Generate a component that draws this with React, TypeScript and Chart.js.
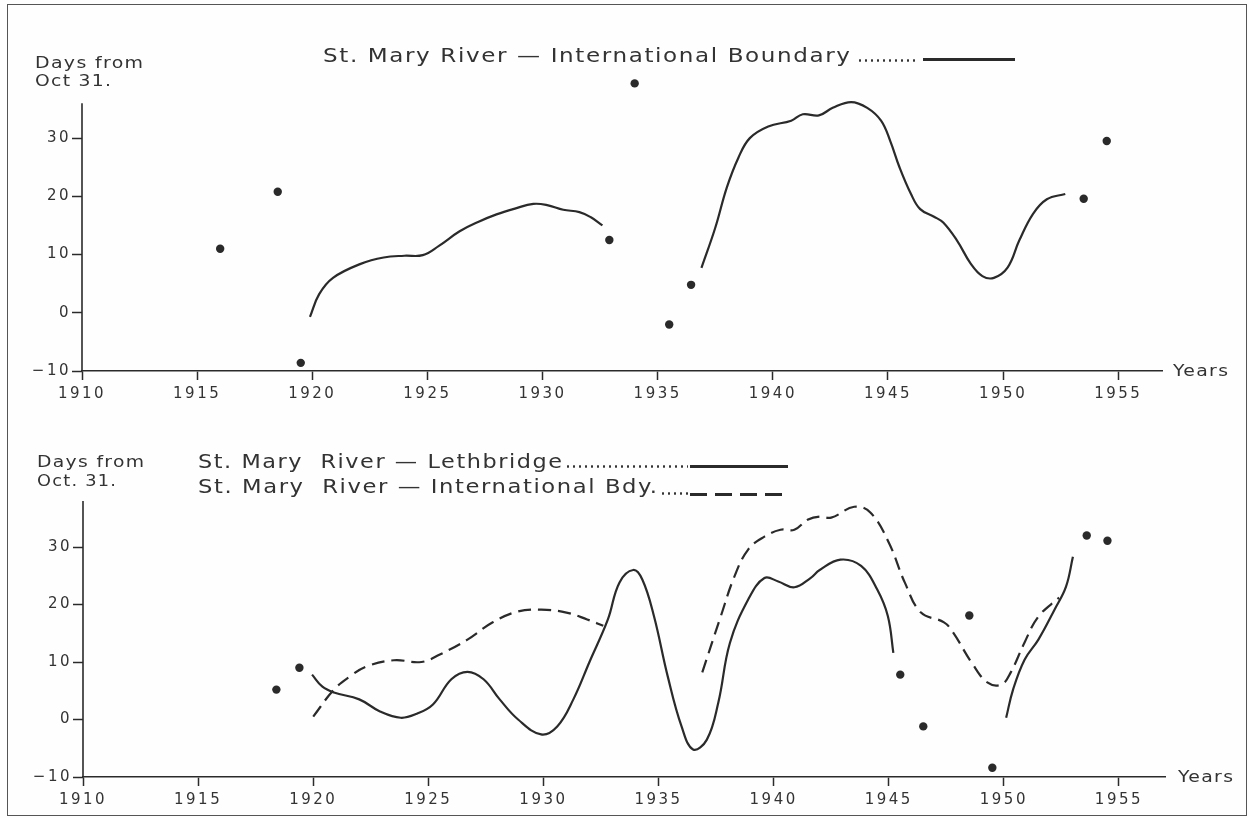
import React, { useEffect, useRef, useMemo } from "react";
import { Chart, registerables } from "chart.js";

Chart.register(...registerables);

// ---------- axis ticks ----------
const yearTicks = [1910, 1915, 1920, 1925, 1930, 1935, 1940, 1945, 1950, 1955];
const dayTicks = [-10, 0, 10, 20, 30];

// ---------- upper panel: St. Mary River - International Boundary ----------
const topDotYears = [1916, 1918.5, 1919.5, 1932.9, 1934, 1935.5, 1936.45, 1953.5, 1954.5];
const topDotDays = [11, 20.8, -8.6, 12.5, 39.4, -2, 4.8, 19.6, 29.5];

const topCurveAYears = [1919.9, 1920.3, 1920.9, 1922.1, 1923.1, 1924, 1924.8, 1925.5, 1926.4, 1927.2, 1928, 1928.8, 1929.6, 1930.2, 1930.9, 1931.6, 1932.1, 1932.6];
const topCurveADays = [-0.7, 3.2, 6.0, 8.4, 9.5, 9.8, 9.9, 11.5, 14, 15.6, 16.9, 17.9, 18.7, 18.5, 17.7, 17.3, 16.4, 15];

const topCurveBYears = [1936.9, 1937.5, 1938, 1938.5, 1939, 1939.8, 1940.8, 1941.3, 1942, 1942.6, 1943.4, 1944.1, 1944.7, 1945.1, 1945.5, 1946, 1946.4, 1947, 1947.4, 1948, 1948.6, 1949.1, 1949.6, 1950.2, 1950.7, 1951.3, 1951.9, 1952.7];
const topCurveBDays = [7.7, 14.6, 21.5, 26.6, 30, 32, 33, 34.1, 33.9, 35.2, 36.2, 35.2, 33, 29.5, 25, 20.4, 17.8, 16.5, 15.5, 12.4, 8.4, 6.3, 6, 7.8, 12.4, 17, 19.5, 20.4];

// ---------- lower panel ----------
const botDotYears = [1918.4, 1919.4, 1945.5, 1946.5, 1948.5, 1949.5, 1953.6, 1954.5];
const botDotDays = [5.2, 9.0, 7.8, -1.2, 18.1, -8.4, 32, 31.1];

// Lethbridge (solid)
const lethAYears = [1919.95, 1920.4, 1920.9, 1922, 1922.9, 1923.8, 1924.5, 1925.2, 1926, 1926.7, 1927.4, 1928.1, 1928.9, 1929.9, 1930.6, 1931.3, 1932, 1932.8, 1933.3, 1933.9, 1934.3, 1934.8, 1935.4, 1936, 1936.5, 1937.1, 1937.6, 1938.1, 1938.9, 1939.6, 1940.2, 1940.9, 1941.6, 1942, 1942.9, 1943.8, 1944.5, 1944.96, 1945.2];
const lethADays = [7.8, 5.7, 4.7, 3.5, 1.4, 0.3, 1.0, 2.6, 7, 8.3, 7, 3.5, 0, -2.6, -1.2, 3.5, 10, 17.4, 23.8, 26, 24.3, 18, 7.5, -1.2, -5.2, -3.5, 3, 13.3, 20.9, 24.6, 24, 23, 24.6, 26, 27.8, 26.7, 22.6, 18, 11.6];
const lethBYears = [1950.1, 1950.4, 1950.9, 1951.5, 1952.2, 1952.7, 1953.0];
const lethBDays = [0.3, 5.2, 10.4, 13.9, 19.1, 23.1, 28.3];

// International Bdy. (dashed)
const bdyAYears = [1920, 1920.9, 1921.6, 1922.3, 1923.5, 1924.7, 1925.5, 1926.7, 1927.8, 1928.9, 1929.9, 1931, 1931.9, 1932.6];
const bdyADays = [0.5, 5.2, 7.5, 9.2, 10.3, 10, 11.3, 13.9, 16.9, 18.8, 19.1, 18.6, 17.4, 16.3];
const bdyBYears = [1936.9, 1937.7, 1938.3, 1938.9, 1939.6, 1940.3, 1940.9, 1941.5, 1942, 1942.5, 1943.5, 1944.2, 1945, 1945.7, 1946.4, 1947.4, 1947.8, 1948.6, 1949.3, 1949.9, 1950.3, 1950.9, 1951.5, 1952.4];
const bdyBDays = [8.2, 17.9, 24.9, 29.6, 31.8, 33, 33, 34.8, 35.3, 35.1, 37, 36, 30.8, 23.8, 18.6, 16.9, 15.1, 9.9, 6.4, 6.1, 8.2, 13.4, 17.9, 21.2];

// ---------- text ----------
const topTitle = "St. Mary River \u2014 International Boundary";
const botLegend1 = "St. Mary  River \u2014 Lethbridge";
const botLegend2 = "St. Mary  River \u2014 International Bdy.";
const yTitleTop = ["Days from", "Oct 31."];
const yTitleBot = ["Days from", "Oct. 31."];
const xTitle = "Years";

const FONT = '"DejaVu Sans", "Liberation Sans", sans-serif';
const INK = "#2a2a2a";
const TEXT = "#333333";

const zip = (xs: number[], ys: number[]) => xs.map((x, i) => ({ x, y: ys[i] }));

const spacingPlugin = {
  id: "letterSpacing",
  beforeDraw(chart: any) {
    (chart.ctx as any).letterSpacing = "2.5px";
  },
  afterDraw(chart: any) {
    (chart.ctx as any).letterSpacing = "0px";
  },
};

// y axis line drawn from the bottom value up to a chosen top value
const yAxisLinePlugin = {
  id: "yAxisLine",
  afterDraw(chart: any, _args: any, opts: any) {
    const y = chart.scales.y;
    const ctx = chart.ctx;
    const x0 = chart.chartArea.left;
    ctx.save();
    ctx.strokeStyle = INK;
    ctx.lineWidth = 1.6;
    ctx.beginPath();
    ctx.moveTo(x0, y.getPixelForValue(-10) + 0.8);
    ctx.lineTo(x0, y.getPixelForValue(opts.top));
    ctx.stroke();
    ctx.restore();
  },
};

function curve(xs: number[], ys: number[], dashed: boolean) {
  return {
    data: zip(xs, ys),
    borderColor: INK,
    borderWidth: 2.2,
    borderDash: dashed ? [13, 7] : [],
    pointRadius: 0,
    tension: 0.4,
    showLine: true,
    fill: false,
  };
}

function dots(xs: number[], ys: number[]) {
  return {
    data: zip(xs, ys),
    showLine: false,
    pointRadius: 4.2,
    pointBackgroundColor: INK,
    pointBorderWidth: 0,
    clip: false,
  };
}

function makeConfig(datasets: any[], geo: any) {
  return {
    type: "line",
    data: { datasets },
    plugins: [spacingPlugin, yAxisLinePlugin],
    options: {
      responsive: false,
      animation: false,
      devicePixelRatio: 1,
      events: [],
      layout: { padding: geo.padding },
      plugins: {
        legend: { display: false },
        tooltip: { enabled: false },
        title: { display: false },
        yAxisLine: { top: geo.axisTop },
      },
      scales: {
        x: {
          type: "linear",
          min: 1910,
          max: geo.xMax,
          afterBuildTicks: (s: any) => {
            s.ticks = yearTicks.map((v) => ({ value: v }));
          },
          afterFit: (s: any) => {
            s.height = 34;
          },
          grid: { drawOnChartArea: false, drawTicks: true, tickLength: 9, tickColor: INK, tickWidth: 1.5 },
          border: { display: true, color: INK, width: 1.6 },
          ticks: {
            autoSkip: false,
            maxRotation: 0,
            padding: 5,
            color: TEXT,
            font: { family: FONT, size: 15 },
            callback: (v: any) => String(v),
          },
        },
        y: {
          type: "linear",
          min: -10,
          max: geo.yMax,
          afterBuildTicks: (s: any) => {
            s.ticks = dayTicks.map((v) => ({ value: v }));
          },
          afterFit: (s: any) => {
            s.width = 70;
          },
          grid: { drawOnChartArea: false, drawTicks: true, tickLength: 10, tickColor: INK, tickWidth: 1.5 },
          border: { display: false },
          ticks: {
            padding: 1,
            color: TEXT,
            font: { family: FONT, size: 15 },
            callback: (v: any) => (Number(v) < 0 ? "\u2212" + Math.abs(Number(v)) : String(v)),
          },
        },
      },
    },
  };
}

function ChartCanvas({ config, width, height, top }: any) {
  const ref = useRef<HTMLCanvasElement | null>(null);
  useEffect(() => {
    if (!ref.current) return;
    const chart = new Chart(ref.current, config);
    return () => chart.destroy();
  }, [config]);
  return (
    <canvas
      ref={ref}
      width={width}
      height={height}
      style={{ position: "absolute", left: 0, top, width, height }}
    />
  );
}

let measureCtx: CanvasRenderingContext2D | null = null;
function Txt({ text, x, base, size, width }: any) {
  const ls = 0.07 * size;
  const scale = useMemo(() => {
    if (!measureCtx) measureCtx = document.createElement("canvas").getContext("2d");
    if (!measureCtx) return 1;
    measureCtx.font = `${size}px ${FONT}`;
    const w = measureCtx.measureText(text).width + ls * (text.length - 1);
    return width / w;
  }, [text, size, width]);
  return (
    <div
      style={{
        position: "absolute",
        left: x,
        top: base - 0.846 * size,
        fontFamily: FONT,
        fontSize: size,
        lineHeight: `${size}px`,
        letterSpacing: ls,
        whiteSpace: "pre",
        color: TEXT,
        transform: `scaleX(${scale})`,
        transformOrigin: "0 0",
      }}
    >
      {text}
    </div>
  );
}

function Leader({ x1, x2, y }: any) {
  return (
    <div
      style={{
        position: "absolute",
        left: x1,
        top: y - 1.5,
        width: x2 - x1,
        height: 3,
        backgroundImage: `radial-gradient(circle, ${TEXT} 1px, transparent 1.4px)`,
        backgroundSize: "6px 3px",
        backgroundRepeat: "repeat-x",
      }}
    />
  );
}

function Sample({ x1, x2, y, dashed }: any) {
  return (
    <div
      style={{
        position: "absolute",
        left: x1,
        top: y - 1.5,
        width: x2 - x1,
        height: 3,
        background: dashed
          ? `repeating-linear-gradient(to right, ${INK} 0 17px, transparent 17px 25px)`
          : INK,
      }}
    />
  );
}

export default function App() {
  const topConfig = useMemo(
    () =>
      makeConfig(
        [
          curve(topCurveAYears, topCurveADays, false),
          curve(topCurveBYears, topCurveBDays, false),
          dots(topDotYears, topDotDays),
        ],
        { xMax: 1956.9, yMax: 40.5, axisTop: 36, padding: { left: 12, right: 87, top: 77, bottom: 0 } }
      ),
    []
  );
  const botConfig = useMemo(
    () =>
      makeConfig(
        [
          curve(lethAYears, lethADays, false),
          curve(lethBYears, lethBDays, false),
          curve(bdyAYears, bdyADays, true),
          curve(bdyBYears, bdyBDays, true),
          dots(botDotYears, botDotDays),
        ],
        { xMax: 1957, yMax: 38, axisTop: 38, padding: { left: 13, right: 84, top: 96, bottom: 7 } }
      ),
    []
  );

  return (
    <div
      style={{
        position: "fixed",
        left: 0,
        top: 0,
        width: 1249,
        height: 818,
        background: "#fefefe",
        overflow: "hidden",
      }}
    >
      <ChartCanvas config={topConfig} width={1249} height={405} top={0} />
      <ChartCanvas config={botConfig} width={1249} height={413} top={405} />

      {/* upper panel text */}
      <Txt text={yTitleTop[0]} x={35} base={69} size={15} width={108} />
      <Txt text={yTitleTop[1]} x={35} base={87} size={15} width={76} />
      <Txt text={topTitle} x={323} base={62} size={20} width={527} />
      <Leader x1={857} x2={919} y={60} />
      <Sample x1={923} x2={1015} y={59.5} dashed={false} />
      <Txt text={xTitle} x={1173} base={377} size={15} width={55} />

      {/* lower panel text */}
      <Txt text={yTitleBot[0]} x={37} base={468} size={15} width={107} />
      <Txt text={yTitleBot[1]} x={37} base={487} size={15} width={79} />
      <Txt text={botLegend1} x={198} base={468} size={20} width={364} />
      <Leader x1={565} x2={688} y={466} />
      <Sample x1={690} x2={788} y={466} dashed={false} />
      <Txt text={botLegend2} x={198} base={493} size={20} width={459} />
      <Leader x1={660} x2={688} y={493} />
      <Sample x1={690} x2={788} y={494} dashed={true} />
      <Txt text={xTitle} x={1178} base={783} size={15} width={55} />

      {/* frame */}
      <div
        style={{
          position: "absolute",
          left: 7,
          top: 4,
          width: 1240,
          height: 812,
          border: "1.5px solid #555",
          boxSizing: "border-box",
          pointerEvents: "none",
        }}
      />
    </div>
  );
}
